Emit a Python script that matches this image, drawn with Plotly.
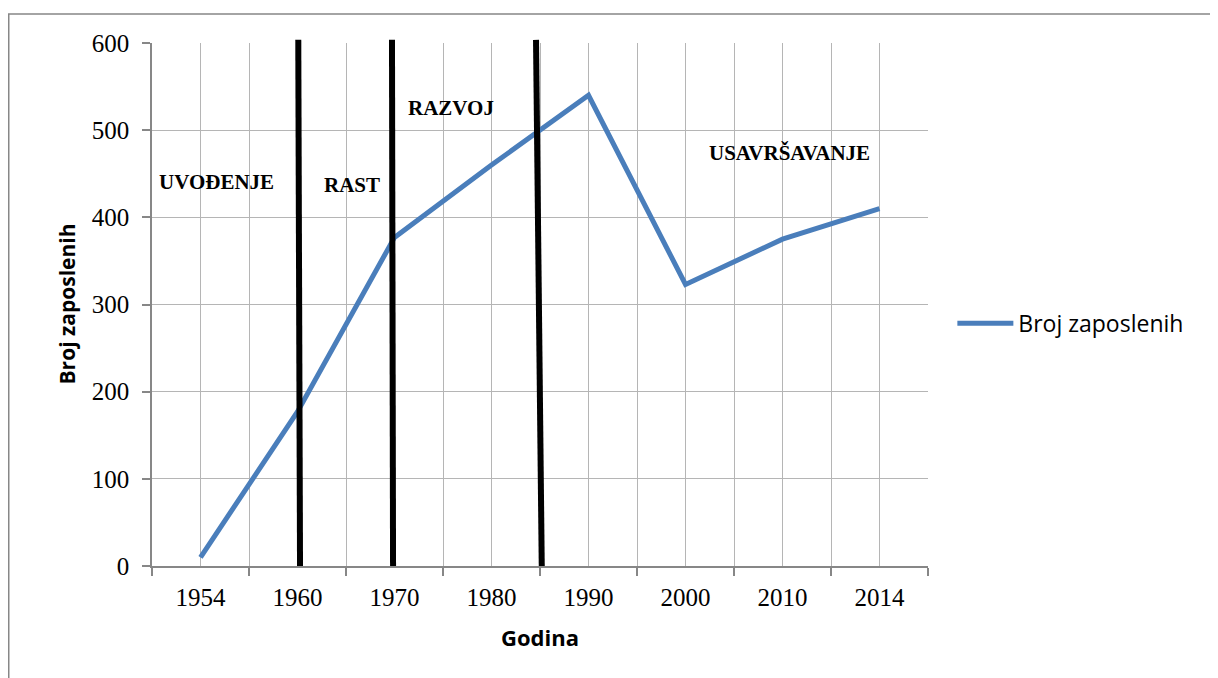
import plotly.graph_objects as go

# ---- data ----
years = ["1954", "1960", "1970", "1980", "1990", "2000", "2010", "2014"]
employees = [10, 177, 377, 460, 540, 323, 375, 410]
series_name = "Broj zaposlenih"
x_title = "Godina"
y_title = "Broj zaposlenih"

phase_labels = ["UVOĐENJE", "RAST", "RAZVOJ", "USAVRŠAVANJE"]
phase_label_x = [0.16, 1.56, 2.58, 6.07]
phase_label_y = [440, 437, 525, 474]

# phase boundary lines (category index units, top/bottom)
boundary_top_x = [1.008, 1.974, 3.459]
boundary_bot_x = [1.026, 1.985, 3.518]

idx = list(range(len(years)))

line_col = "#4a7ebb"
fig = go.Figure()
fig.add_trace(go.Scatter(
    x=idx, y=employees, mode="lines", name=series_name,
    line=dict(color=line_col, width=5),
    showlegend=True,
))

grid_col = "#b5b5b5"
axis_col = "#878787"
serif = "Liberation Serif"
sans = "Open Sans"

fig.update_layout(
    width=1210, height=670,
    paper_bgcolor="white", plot_bgcolor="white",
    margin=dict(l=144, r=290, t=35, b=112),
    showlegend=True,
    legend=dict(x=1.0314, y=0.464, xanchor="left", yanchor="middle",
                itemwidth=56,
                font=dict(family=sans, size=23, color="black"),
                bgcolor="rgba(0,0,0,0)"),
    xaxis=dict(
        range=[-0.5, len(years) - 0.5],
        tickmode="array", tickvals=idx, ticktext=years,
        ticks="outside", ticklen=0, ticklabelstandoff=8,
        tickfont=dict(family=serif, size=25, color="black"),
        showgrid=True, gridcolor=grid_col, gridwidth=1.3,
        showline=True, linecolor=axis_col, linewidth=1.5,
        mirror=False, zeroline=False,
        minor=dict(tickmode="array",
                   tickvals=[i - 0.5 for i in range(len(years) + 1)],
                   ticks="outside", ticklen=8, tickcolor=axis_col,
                   tickwidth=1.5,
                   showgrid=True, gridcolor=grid_col, gridwidth=1.3),
    ),
    yaxis=dict(
        range=[0, 600], dtick=100, tick0=0,
        ticks="outside", ticklen=8, tickcolor=axis_col, tickwidth=1.5,
        ticklabelstandoff=8,
        tickfont=dict(family=serif, size=25, color="black"),
        showgrid=True, gridcolor=grid_col, gridwidth=1.3,
        showline=True, linecolor=axis_col, linewidth=1.5,
        zeroline=False,
    ),
)

# axis titles
fig.add_annotation(xref="paper", yref="paper", x=0.5, y=-0.1355,
                   text=f"<b>{x_title}</b>", showarrow=False,
                   font=dict(family=sans, size=22, color="black"),
                   xanchor="center", yanchor="middle")
fig.add_annotation(xref="paper", yref="paper", x=-0.1108, y=0.5,
                   text=f"<b>{y_title}</b>", showarrow=False, textangle=-90,
                   font=dict(family=sans, size=21, color="black"),
                   xanchor="center", yanchor="middle")

# phase labels
for lab, lx, ly in zip(phase_labels, phase_label_x, phase_label_y):
    fig.add_annotation(x=lx, y=ly, xref="x", yref="y", text=f"<b>{lab}</b>",
                       showarrow=False, xanchor="center", yanchor="middle",
                       font=dict(family=serif, size=21, color="black"))

# phase boundary lines
for xt, xb in zip(boundary_top_x, boundary_bot_x):
    fig.add_shape(type="line", xref="x", yref="paper",
                  x0=xb, y0=0, x1=xt, y1=1.006,
                  line=dict(color="black", width=6))

# outer chart frame
fig.add_shape(type="rect", xref="paper", yref="paper",
              x0=-0.1846, y0=-0.35, x1=1.5, y1=1.0553,
              line=dict(color=axis_col, width=1.5), layer="below")

fig.write_html("out.html")
